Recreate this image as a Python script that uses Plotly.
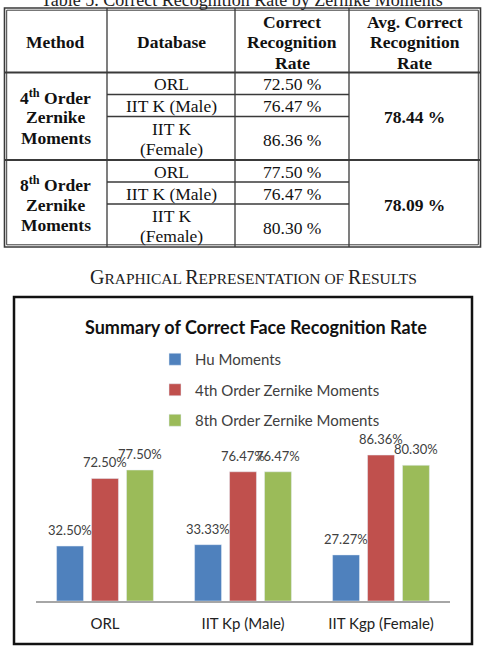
import plotly.graph_objects as go

W, H = 485, 647

# ---------------- data ----------------
categories = ["ORL", "IIT Kp (Male)", "IIT Kgp (Female)"]
series_names = ["Hu Moments", "4th Order Zernike Moments", "8th Order Zernike Moments"]
hu_values = [32.50, 33.33, 27.27]
z4_values = [72.50, 76.47, 86.36]
z8_values = [77.50, 76.47, 80.30]
series_colors = ["#4F81BD", "#C0504D", "#9BBB59"]

table_title = "Table 5. Correct Recognition Rate by Zernike Moments"
table_header = [["Method"], ["Database"], ["Correct", "Recognition", "Rate"],
                ["Avg. Correct", "Recognition", "Rate"]]
table_methods = [["4<sup>th</sup> Order", "Zernike", "Moments"],
                 ["8<sup>th</sup> Order", "Zernike", "Moments"]]
table_databases = [["ORL"], ["IIT K (Male)"], ["IIT K", "(Female)"]]
table_rates = [["72.50 %", "76.47 %", "86.36 %"], ["77.50 %", "76.47 %", "80.30 %"]]
table_avg = ["78.44 %", "78.09 %"]

chart_title = "Summary of Correct Face Recognition Rate"

def px(x):
    return x / W

def py(y):
    return 1 - y / H

fig = go.Figure()
all_values = [hu_values, z4_values, z8_values]
for i, (name, vals, col) in enumerate(zip(series_names, all_values, series_colors)):
    fig.add_trace(go.Bar(
        x=categories, y=vals, name=name, marker_color=col,
        legendgroup=f"g{i}",
    ))

bargap = 0.24
bargroupgap = 0.23
shapes = []
ann = []

# data labels
slot = (1 - bargap) / 3
for i, vals in enumerate(all_values):
    for j, v in enumerate(vals):
        ann.append(dict(
            x=j + (i - 1) * slot, y=v, xref="x", yref="y",
            text=f"{v:.2f}%", showarrow=False, yanchor="middle", yshift=16,
            font=dict(family="Lato", size=13, color="#404040"),
        ))

# ---------------- table ----------------
serif = "Liberation Serif"
line_col = "#3a3a3a"
col_x = [4.5, 107, 235, 349, 480.5]
top, head_bot, bottom = 8, 72.5, 247
sub_rows = [[72.5, 94.5, 116.5, 160], [160, 182, 204, 247]]
LS = 20.5  # line spacing of table text

def hline(x0, x1, y, w=1.3, c=line_col):
    shapes.append(dict(type="line", xref="paper", yref="paper", x0=px(x0), x1=px(x1),
                       y0=py(y), y1=py(y), line=dict(color=c, width=w)))

def vline(x, y0, y1, w=1.3, c=line_col):
    shapes.append(dict(type="line", xref="paper", yref="paper", x0=px(x), x1=px(x),
                       y0=py(y0), y1=py(y1), line=dict(color=c, width=w)))

# outer double border
for off, w in [(0, 1.6), (2.2, 1.0)]:
    shapes.append(dict(type="rect", xref="paper", yref="paper",
                       x0=px(col_x[0] + off), x1=px(col_x[-1] - off),
                       y0=py(top + off), y1=py(bottom - off),
                       line=dict(color=line_col, width=w)))
for x in col_x[1:-1]:
    vline(x, top, bottom)
hline(col_x[0], col_x[-1], head_bot, 2)
hline(col_x[0], col_x[-1], 160, 2)
for rows in sub_rows:
    for y in rows[1:-1]:
        hline(col_x[1], col_x[3], y)

def txt(x, y, t, size=17.5, bold=False, color="#111", family=serif, xanchor="center"):
    ann.append(dict(x=px(x), y=py(y), xref="paper", yref="paper", text=f"<b>{t}</b>" if bold else t,
                    showarrow=False, xanchor=xanchor, yanchor="middle",
                    font=dict(family=family, size=size, color=color)))

def lines(x, yc, parts, **kw):
    n = len(parts)
    for k, p in enumerate(parts):
        txt(x, yc + (k - (n - 1) / 2) * LS, p, **kw)

txt(242, 0, table_title, size=18, color="#222")
cx = [(col_x[k] + col_x[k + 1]) / 2 for k in range(4)]
for k, h in enumerate(table_header):
    lines(cx[k], 42, h, bold=True)
for g in range(2):
    rows = sub_rows[g]
    mid = (rows[0] + rows[-1]) / 2
    lines(cx[0], mid + 1, table_methods[g], bold=True)
    txt(cx[3], mid + 1, table_avg[g], bold=True)
    for r in range(3):
        yc = (rows[r] + rows[r + 1]) / 2 + 0.5
        lines(cx[1], yc, table_databases[r])
        txt(cx[2], yc + (1.5 if r == 2 else 0), table_rates[g][r])

# heading in small caps
big = "<span style='font-size:20px'>"
txt(253, 277, f"{big}G</span>RAPHICAL {big}R</span>EPRESENTATION OF {big}R</span>ESULTS",
    size=15.5, color="#222")

# chart frame
shapes.append(dict(type="rect", xref="paper", yref="paper", x0=px(14), x1=px(472),
                   y0=py(297), y1=py(644), line=dict(color="#111", width=2.5)))
txt(256, 327, chart_title, size=18, bold=True, color="#111", family="Lato")

fig.update_layout(
    width=W, height=H, margin=dict(l=0, r=0, t=0, b=0),
    paper_bgcolor="white", plot_bgcolor="white",
    barmode="group", bargap=bargap, bargroupgap=bargroupgap,
    shapes=shapes, annotations=ann,
    showlegend=True,
    legend=dict(x=px(155), y=py(343), xanchor="left", yanchor="top",
                orientation="v", tracegroupgap=8,
                font=dict(family="Lato", size=15, color="#404040"),
                bgcolor="rgba(0,0,0,0)"),
    xaxis=dict(domain=[px(36), px(450)], anchor="y", showline=True, linecolor="#a6a6a6",
               linewidth=1.5, ticks="", showgrid=False, ticklabelstandoff=8,
               tickfont=dict(family="Lato", size=15, color="#222")),
    yaxis=dict(domain=[py(601), py(432)], range=[0, 100], visible=False, showgrid=False),
)

fig.write_html("out.html")
